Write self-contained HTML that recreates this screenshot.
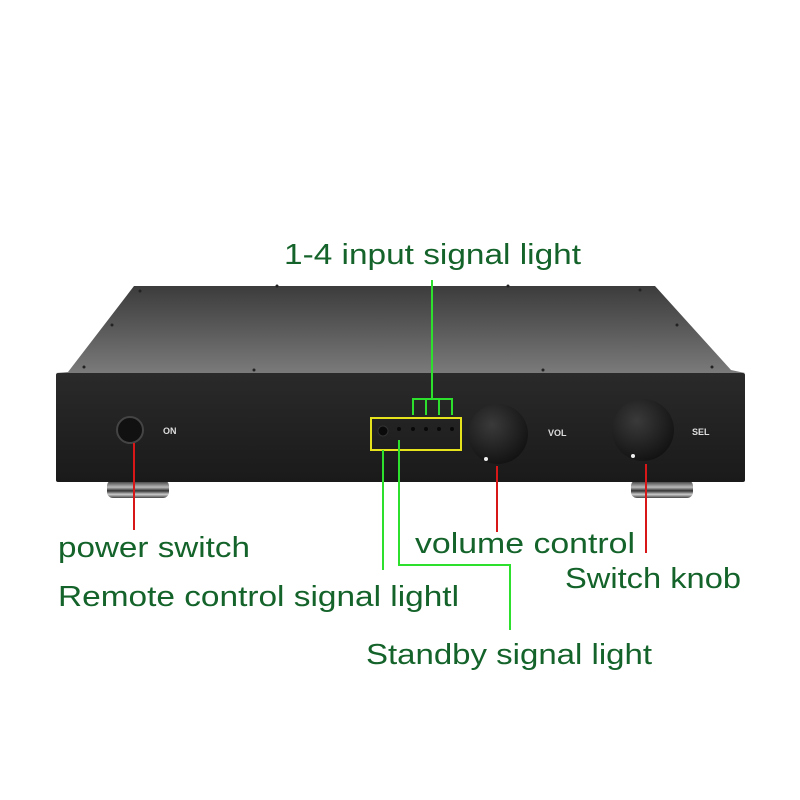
<!DOCTYPE html>
<html><head><meta charset="utf-8"><style>html,body{margin:0;padding:0;background:#fff}svg{display:block}</style></head>
<body>
<svg width="800" height="800" viewBox="0 0 800 800" xmlns="http://www.w3.org/2000/svg">
<defs>
<linearGradient id="top" x1="0" y1="0" x2="0" y2="1">
<stop offset="0" stop-color="#3c3c3c"/><stop offset="0.5" stop-color="#5a5a5a"/><stop offset="1" stop-color="#7a7a7a"/>
</linearGradient>
<linearGradient id="front" x1="0" y1="0" x2="0" y2="1">
<stop offset="0" stop-color="#2a2a2a"/><stop offset="1" stop-color="#1a1a1a"/>
</linearGradient>
<radialGradient id="knob" cx="0.4" cy="0.35" r="0.7">
<stop offset="0" stop-color="#3a3a3a"/><stop offset="1" stop-color="#111"/>
</radialGradient>
<linearGradient id="foot" x1="0" y1="0" x2="0" y2="1">
<stop offset="0" stop-color="#222"/><stop offset="0.4" stop-color="#bbb"/><stop offset="0.6" stop-color="#333"/><stop offset="0.8" stop-color="#ccc"/><stop offset="1" stop-color="#444"/>
</linearGradient>
</defs>
<rect x="107" y="480" width="62" height="18" rx="6" fill="url(#foot)"/>
<rect x="631" y="480" width="62" height="18" rx="6" fill="url(#foot)"/>
<polygon points="134,286 655,286 731,370 745,373 56,373 68,372" fill="url(#top)"/>
<g fill="#222"><circle cx="140" cy="291" r="1.5"/><circle cx="277" cy="286" r="1.5"/><circle cx="508" cy="286" r="1.5"/><circle cx="640" cy="290" r="1.5"/><circle cx="112" cy="325" r="1.5"/><circle cx="677" cy="325" r="1.5"/><circle cx="84" cy="367" r="1.5"/><circle cx="254" cy="370" r="1.5"/><circle cx="543" cy="370" r="1.5"/><circle cx="712" cy="367" r="1.5"/></g>
<rect x="56" y="373" width="689" height="109" rx="2" fill="url(#front)"/>
<circle cx="130" cy="430" r="13" fill="#111" stroke="#444" stroke-width="2"/>
<text x="163" y="434" font-family="Liberation Sans, sans-serif" font-size="9" fill="#ddd" font-weight="bold">ON</text>
<circle cx="498" cy="434" r="30" fill="url(#knob)"/>
<circle cx="486" cy="459" r="2" fill="#eee"/>
<circle cx="643" cy="430" r="31" fill="url(#knob)"/>
<circle cx="633" cy="456" r="2" fill="#eee"/>
<text x="548" y="436" font-family="Liberation Sans, sans-serif" font-size="9" fill="#ddd" font-weight="bold">VOL</text>
<text x="692" y="435" font-family="Liberation Sans, sans-serif" font-size="9" fill="#ddd" font-weight="bold">SEL</text>
<circle cx="383" cy="431" r="5" fill="#0a0a0a" stroke="#333"/>
<g fill="#080808"><circle cx="399" cy="429" r="2"/><circle cx="413" cy="429" r="2"/><circle cx="426" cy="429" r="2"/><circle cx="439" cy="429" r="2"/><circle cx="452" cy="429" r="2"/></g>
<rect x="371" y="418" width="90" height="32" fill="none" stroke="#e6e21c" stroke-width="2"/>
<g stroke="#2ee02e" stroke-width="2" fill="none">
<line x1="432" y1="280" x2="432" y2="399"/>
<polyline points="413,415 413,399 452,399 452,415"/>
<line x1="426" y1="399" x2="426" y2="415"/>
<line x1="439" y1="399" x2="439" y2="415"/>
<line x1="383" y1="450" x2="383" y2="570"/>
<polyline points="399,440 399,565 510,565 510,630"/>
</g>
<g stroke="#d81818" stroke-width="2">
<line x1="134" y1="443" x2="134" y2="530"/>
<line x1="497" y1="466" x2="497" y2="532"/>
<line x1="646" y1="464" x2="646" y2="553"/>
</g>
<g font-family="Liberation Sans, sans-serif" font-size="29" fill="#14632a">
<text x="284" y="264" textLength="297" lengthAdjust="spacingAndGlyphs">1-4 input signal light</text>
<text x="58" y="557" textLength="192" lengthAdjust="spacingAndGlyphs">power switch</text>
<text x="415" y="553" textLength="220" lengthAdjust="spacingAndGlyphs">volume control</text>
<text x="565" y="588" textLength="176" lengthAdjust="spacingAndGlyphs">Switch knob</text>
<text x="58" y="606" textLength="401" lengthAdjust="spacingAndGlyphs">Remote control signal lightl</text>
<text x="366" y="664" textLength="286" lengthAdjust="spacingAndGlyphs">Standby signal light</text>
</g>
</svg>
</body></html>
